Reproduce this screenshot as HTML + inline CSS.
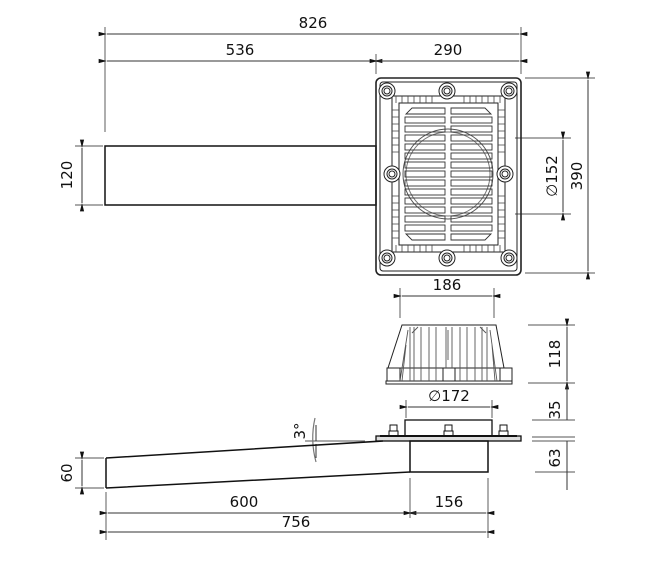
<!DOCTYPE html>
<html><head><meta charset="utf-8"><style>
html,body{margin:0;padding:0;background:#fff}
svg{display:block}
text{font-family:"DejaVu Sans","Liberation Sans",sans-serif;font-size:15px;fill:#111}
</style></head><body>
<svg width="660" height="562" viewBox="0 0 660 562" xmlns="http://www.w3.org/2000/svg">
<defs>
<marker id="a" viewBox="0 0 10 6" refX="0" refY="3" markerWidth="10" markerHeight="5" orient="auto-start-reverse"><path d="M10,0.5 L0,3 L10,5.5z" fill="#111"/></marker>
</defs>
<g stroke="#777" stroke-width="1.2" fill="none">
<line x1="105" y1="27" x2="105" y2="132"/>
<line x1="521" y1="27" x2="521" y2="74"/>
<line x1="376" y1="54" x2="376" y2="74"/>
<line x1="75" y1="146" x2="103" y2="146"/>
<line x1="75" y1="205" x2="103" y2="205"/>
<line x1="525" y1="78" x2="595" y2="78"/>
<line x1="525" y1="273" x2="595" y2="273"/>
<line x1="515" y1="138" x2="571" y2="138"/>
<line x1="515" y1="214" x2="571" y2="214"/>
<line x1="400" y1="288" x2="400" y2="318"/>
<line x1="494" y1="288" x2="494" y2="318"/>
<line x1="528" y1="325" x2="575" y2="325"/>
<line x1="528" y1="383" x2="575" y2="383"/>
<line x1="532" y1="420" x2="575" y2="420"/>
<line x1="532" y1="437" x2="575" y2="437"/>
<line x1="532" y1="441" x2="575" y2="441"/>
<line x1="535" y1="472" x2="575" y2="472"/>
<line x1="75" y1="458" x2="104" y2="458"/>
<line x1="75" y1="488" x2="104" y2="488"/>
<line x1="106" y1="492" x2="106" y2="540"/>
<line x1="410" y1="478" x2="410" y2="518"/>
<line x1="488" y1="478" x2="488" y2="538"/>
<line x1="406" y1="400" x2="406" y2="418"/>
<line x1="492" y1="400" x2="492" y2="418"/>
<line x1="305" y1="441" x2="365" y2="441"/>
<path d="M315,418 Q310,440 316,462"/>
</g>
<g stroke="#333" stroke-width="1" fill="none" marker-start="url(#a)" marker-end="url(#a)">
<line x1="107" y1="34" x2="519" y2="34"/>
<line x1="107" y1="61" x2="374" y2="61"/>
<line x1="378" y1="61" x2="519" y2="61"/>
<line x1="82" y1="148" x2="82" y2="203"/>
<line x1="588" y1="80" x2="588" y2="271"/>
<line x1="563" y1="140" x2="563" y2="212"/>
<line x1="402" y1="296" x2="492" y2="296"/>
<line x1="567" y1="327" x2="567" y2="381"/>
<line x1="408" y1="407" x2="490" y2="407"/>
<line x1="82" y1="460" x2="82" y2="486"/>
<line x1="108" y1="513" x2="408" y2="513"/>
<line x1="412" y1="513" x2="486" y2="513"/>
<line x1="108" y1="532" x2="486" y2="532"/>
</g>
<g stroke="#333" stroke-width="1" fill="none">
<line x1="567" y1="385" x2="567" y2="420"/>
<line x1="567" y1="441" x2="567" y2="490"/>
<line x1="316" y1="425" x2="316" y2="441"/>
<line x1="316" y1="444" x2="316" y2="458"/>
</g>
<text x="313" y="28" text-anchor="middle">826</text>
<text x="240" y="55" text-anchor="middle">536</text>
<text x="448" y="55" text-anchor="middle">290</text>
<text x="447" y="290" text-anchor="middle">186</text>
<text x="449" y="401" text-anchor="middle">∅172</text>
<text x="244" y="507" text-anchor="middle">600</text>
<text x="449" y="507" text-anchor="middle">156</text>
<text x="296" y="527" text-anchor="middle">756</text>
<text transform="translate(72,175) rotate(-90)" text-anchor="middle">120</text>
<text transform="translate(72,473) rotate(-90)" text-anchor="middle">60</text>
<text transform="translate(557,176) rotate(-90)" text-anchor="middle">∅152</text>
<text transform="translate(582,176) rotate(-90)" text-anchor="middle">390</text>
<text transform="translate(560,354) rotate(-90)" text-anchor="middle">118</text>
<text transform="translate(560,410) rotate(-90)" text-anchor="middle">35</text>
<text transform="translate(560,458) rotate(-90)" text-anchor="middle">63</text>
<text transform="translate(305,431) rotate(-90)" text-anchor="middle">3°</text>
<rect x="105" y="146" width="271" height="59" fill="none" stroke="#111" stroke-width="1.5"/>
<g fill="none" stroke="#222" stroke-width="1">
<rect x="376" y="78" width="145" height="197" rx="5" stroke-width="1.6"/>
<rect x="380" y="82" width="137" height="189" rx="3"/>
<rect x="392" y="96" width="113" height="156"/>
<rect x="399" y="103" width="99" height="142"/>
<g stroke="#444" stroke-width="0.8">
<path d="M396,96 V103 M402,96V103 M408,96V103 M414,96V103 M420,96V103 M426,96V103 M432,96V103 M464,96V103 M470,96V103 M476,96V103 M482,96V103 M488,96V103 M494,96V103 M500,96V103"/>
<path d="M396,245V252 M402,245V252 M408,245V252 M414,245V252 M420,245V252 M426,245V252 M432,245V252 M464,245V252 M470,245V252 M476,245V252 M482,245V252 M488,245V252 M494,245V252 M500,245V252"/>
<path d="M392,110H399 M392,117H399 M392,124H399 M392,131H399 M392,138H399 M392,145H399 M392,152H399 M392,196H399 M392,203H399 M392,210H399 M392,217H399 M392,224H399 M392,231H399 M392,238H399"/>
<path d="M498,110H505 M498,117H505 M498,124H505 M498,131H505 M498,138H505 M498,145H505 M498,152H505 M498,196H505 M498,203H505 M498,210H505 M498,217H505 M498,224H505 M498,231H505 M498,238H505"/>
</g>
<circle cx="448" cy="174" r="45" stroke="#555"/>
<circle cx="448" cy="174" r="42" stroke="#777"/>
<g stroke="#333" stroke-width="0.9">
<path d="M412,108H445V114H406z M451,108H485L491,114H451z"/>
<rect x="405" y="117" width="40" height="6"/><rect x="451" y="117" width="41" height="6"/>
<rect x="405" y="126" width="40" height="6"/><rect x="451" y="126" width="41" height="6"/>
<rect x="405" y="135" width="40" height="6"/><rect x="451" y="135" width="41" height="6"/>
<rect x="405" y="144" width="40" height="6"/><rect x="451" y="144" width="41" height="6"/>
<rect x="405" y="153" width="40" height="6"/><rect x="451" y="153" width="41" height="6"/>
<rect x="405" y="162" width="40" height="6"/><rect x="451" y="162" width="41" height="6"/>
<rect x="405" y="180" width="40" height="6"/><rect x="451" y="180" width="41" height="6"/>
<rect x="405" y="189" width="40" height="6"/><rect x="451" y="189" width="41" height="6"/>
<rect x="405" y="198" width="40" height="6"/><rect x="451" y="198" width="41" height="6"/>
<rect x="405" y="207" width="40" height="6"/><rect x="451" y="207" width="41" height="6"/>
<rect x="405" y="216" width="40" height="6"/><rect x="451" y="216" width="41" height="6"/>
<rect x="405" y="225" width="40" height="6"/><rect x="451" y="225" width="41" height="6"/>
<path d="M406,234H445V240H412z M451,234H491L485,240H451z"/>
<rect x="405" y="171" width="40" height="6"/><rect x="451" y="171" width="41" height="6"/>
</g>
<g fill="#fff" stroke="#222">
<circle cx="387" cy="91" r="8"/><circle cx="387" cy="91" r="5"/><circle cx="387" cy="91" r="3"/>
<circle cx="447" cy="91" r="8"/><circle cx="447" cy="91" r="5"/><circle cx="447" cy="91" r="3"/>
<circle cx="509" cy="91" r="8"/><circle cx="509" cy="91" r="5"/><circle cx="509" cy="91" r="3"/>
<circle cx="392" cy="174" r="8"/><circle cx="392" cy="174" r="5"/><circle cx="392" cy="174" r="3"/>
<circle cx="505" cy="174" r="8"/><circle cx="505" cy="174" r="5"/><circle cx="505" cy="174" r="3"/>
<circle cx="387" cy="258" r="8"/><circle cx="387" cy="258" r="5"/><circle cx="387" cy="258" r="3"/>
<circle cx="447" cy="258" r="8"/><circle cx="447" cy="258" r="5"/><circle cx="447" cy="258" r="3"/>
<circle cx="509" cy="258" r="8"/><circle cx="509" cy="258" r="5"/><circle cx="509" cy="258" r="3"/>
</g>
</g>
<g fill="none" stroke="#222" stroke-width="1">
<path d="M402,325H496L504,368H388z"/>
<rect x="387" y="368" width="13" height="13"/>
<rect x="443" y="368" width="12" height="13"/>
<rect x="500" y="368" width="12" height="13"/>
<rect x="386" y="381" width="126" height="3"/>
<g stroke="#555" stroke-width="0.9">
<path d="M410,327V381 M414,327V381 M421,327V381 M429,327V381 M436,327V381 M460,327V381 M467,327V381 M475,327V381 M482,327V381 M487,327V381"/>
<path d="M446,327V368 M452,327V368 M448,330V360"/>
<path d="M408,330L400,381 M406,345L402,381 M490,330L497,381 M492,345L495,381 M412,333L418,327 M486,333L480,327"/>
</g>
</g>
<g fill="none" stroke="#111" stroke-width="1.3">
<rect x="405" y="420" width="87" height="16"/>
<rect x="376" y="436" width="145" height="5" fill="#ddd"/>
<path d="M380,436H517" stroke-width="2"/>
<rect x="410" y="441" width="78" height="31" stroke-width="1.5"/>
<path d="M106,458L383,441 M106,488L410,472 M106,458V488" stroke-width="1.5"/>
<g stroke-width="1">
<rect x="390" y="425" width="7" height="6"/><rect x="389" y="431" width="9" height="5"/>
<rect x="445" y="425" width="7" height="6"/><rect x="444" y="431" width="9" height="5"/>
<rect x="500" y="425" width="7" height="6"/><rect x="499" y="431" width="9" height="5"/>
</g>
</g>
</svg>
</body></html>
